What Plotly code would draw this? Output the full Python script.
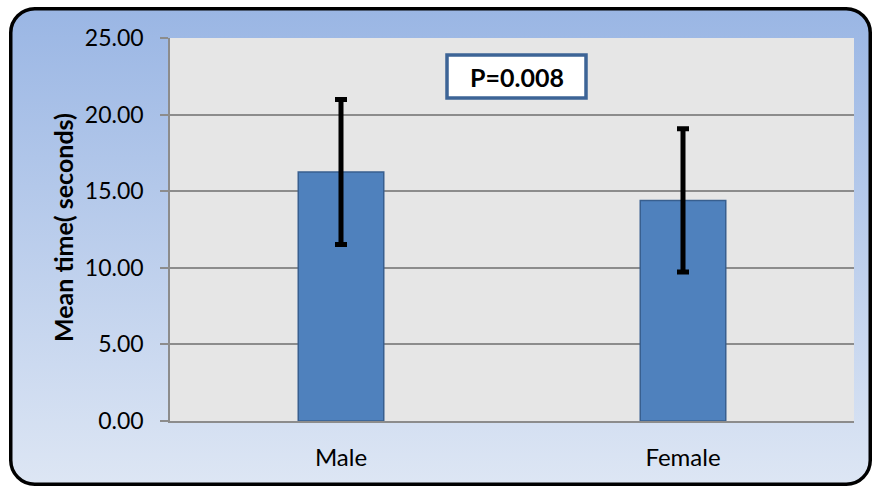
import base64
import plotly.graph_objects as go

categories = ["Male", "Female"]
mean_time = [16.25, 14.40]
error_sd = [4.73, 4.68]
y_ticks = [0, 5, 10, 15, 20, 25]
p_label = "P=0.008"
y_title = "Mean time( seconds)"

W, H = 874, 488
L, R, T, B = 170, 20, 38, 67
pw, ph = W - L - R, H - T - B

def px_x(x):
    return (x - L) / pw

def px_y(y):
    return (H - B - y) / ph

# Rounded gradient frame as an SVG image
fx0, fy0, fx1, fy1 = 9, 7, 872, 486
fw, fh = fx1 - fx0, fy1 - fy0
svg = f'''<svg xmlns="http://www.w3.org/2000/svg" width="{fw}" height="{fh}" viewBox="0 0 {fw} {fh}">
<defs><linearGradient id="g" x1="0" y1="0" x2="0" y2="1">
<stop offset="0" stop-color="#9ab6e4"/><stop offset="1" stop-color="#dde6f4"/>
</linearGradient></defs>
<rect x="1.75" y="1.75" width="{fw-3.5}" height="{fh-3.5}" rx="24" ry="24" fill="url(#g)" stroke="#000" stroke-width="3.5"/>
</svg>'''
src = "data:image/svg+xml;base64," + base64.b64encode(svg.encode()).decode()

fig = go.Figure()
fig.add_trace(go.Bar(
    x=categories, y=mean_time, width=0.25,
    marker=dict(color="#4f81bd", line=dict(color="#385f8f", width=1.5)),
    error_y=dict(type="data", array=error_sd, visible=True,
                 color="#000000", thickness=5, width=6),
))

fig.add_layout_image(dict(
    source=src, xref="paper", yref="paper",
    x=px_x(fx0), y=px_y(fy0), sizex=fw / pw, sizey=fh / ph,
    xanchor="left", yanchor="top", sizing="stretch", layer="below",
))

# plot area background
fig.add_shape(type="rect", xref="paper", yref="paper", x0=0, x1=1, y0=0, y1=1,
              fillcolor="#e6e6e6", line=dict(width=0), layer="below")

# P value box
fig.add_shape(type="rect", xref="paper", yref="paper",
              x0=px_x(447), x1=px_x(586), y0=px_y(98), y1=px_y(55),
              fillcolor="#ffffff", line=dict(color="#3d6496", width=3.5), layer="above")
fig.add_annotation(text=f"<b>{p_label}</b>", xref="paper", yref="paper",
                   x=px_x(516.5), y=px_y(77), xanchor="center", yanchor="middle",
                   showarrow=False,
                   font=dict(family="Lato", size=25, color="#000000"))

fig.add_annotation(text=f"<b>{y_title}</b>", xref="paper", yref="paper",
                   x=px_x(63), y=px_y(228), xanchor="center", yanchor="middle",
                   textangle=-90, showarrow=False,
                   font=dict(family="Lato", size=25, color="#000000"))

fig.update_layout(
    width=W, height=H,
    margin=dict(l=L, r=R, t=T, b=B),
    paper_bgcolor="#ffffff", plot_bgcolor="rgba(0,0,0,0)",
    showlegend=False,
    font=dict(family="Lato", size=23, color="#000000"),
)
fig.update_yaxes(
    range=[0, 25], tickvals=y_ticks, tickformat=".2f",
    showgrid=True, gridcolor="#8c8c8c", gridwidth=1.5,
    showline=True, linecolor="#8c8c8c", linewidth=1.5,
    ticks="outside", ticklen=8, tickcolor="#8c8c8c", tickwidth=1.5,
    ticklabelstandoff=12, zeroline=False,
)
fig.update_xaxes(
    showline=True, linecolor="#8c8c8c", linewidth=1.5,
    ticks="", ticklabelstandoff=14, tickfont=dict(size=24),
)

fig.write_html("out.html", config={"displayModeBar": False},
               post_script="document.body.style.margin='0';")
